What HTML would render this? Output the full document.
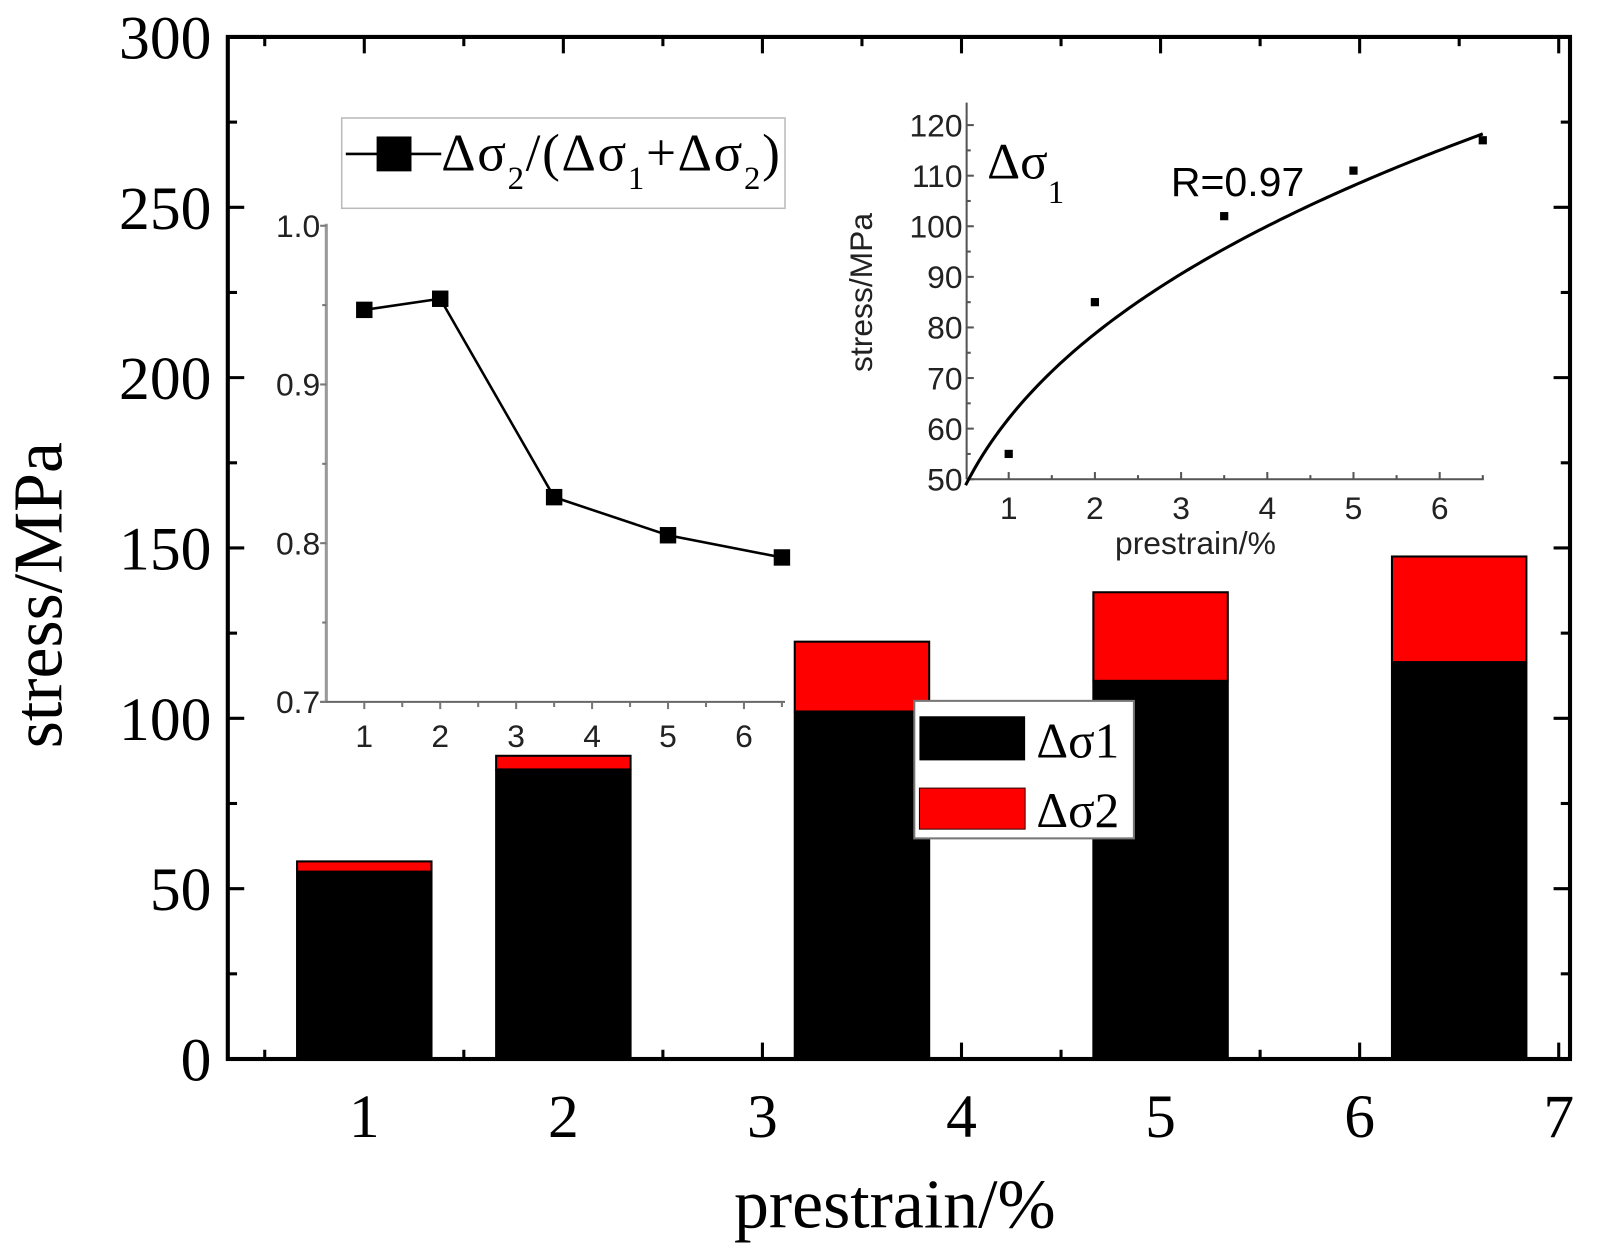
<!DOCTYPE html>
<html><head><meta charset="utf-8"><style>
html,body{margin:0;padding:0;background:#fff}
svg{display:block}
.serif{font-family:"Liberation Serif",serif}
.sans{font-family:"Liberation Sans",sans-serif}
</style></head><body>
<svg id="chart" width="1609" height="1255" viewBox="0 0 1568 1223" preserveAspectRatio="none" xmlns="http://www.w3.org/2000/svg">
<g id="main"></g>
<g id="inset1"></g>
<g id="inset2"></g>
</svg>
<script>
// main chart data
const barX = [1, 2, 3.5, 5, 6.5];
const sigma1 = [55, 85, 102, 111, 116.5];
const sigma2 = [3, 4, 20.5, 26, 31];
const mainYTicks = [0, 50, 100, 150, 200, 250, 300];
const mainXTicks = [1, 2, 3, 4, 5, 6, 7];
// inset 1 data
const ratioX = [1, 2, 3.5, 5, 6.5];
const ratioY = [0.947, 0.954, 0.829, 0.805, 0.791];
const in1YTicks = [0.7, 0.8, 0.9, 1.0];
const in1XTicks = [1, 2, 3, 4, 5, 6];
// inset 2 data
const s1X = [1, 2, 3.5, 5, 6.5];
const s1Y = [55, 85, 102, 111, 117];
const in2YTicks = [50, 60, 70, 80, 90, 100, 110, 120];
const in2XTicks = [1, 2, 3, 4, 5, 6];

const NS = "http://www.w3.org/2000/svg";
function mk(parent, tag, attrs, text) {
  const e = document.createElementNS(NS, tag);
  for (const k in attrs) e.setAttribute(k, attrs[k]);
  if (text !== undefined) e.textContent = text;
  parent.appendChild(e);
  return e;
}

// ---------- main ----------
const M = document.getElementById('main');
const L = 222, R = 1530, T = 36, B = 1032;
const xm = v => 355 + (v - 1) * 194;
const ym = v => B - v * 3.32;
const bw = 133;
barX.forEach((x, i) => {
  const r1 = mk(M, 'rect', {x: xm(x) - bw/2, y: ym(sigma1[i]), width: bw, height: B - ym(sigma1[i]), fill: '#000'});
  
  
  const top = sigma1[i] + sigma2[i];
  const r2 = mk(M, 'rect', {x: xm(x) - bw/2 + 1, y: ym(top), width: bw - 2, height: ym(sigma1[i]) - ym(top), fill: '#f00', stroke: '#000', 'stroke-width': 2});
  
  
});
const frame = mk(M, 'rect', {x: L, y: T, width: R - L, height: B - T, fill: 'none', stroke: '#000', 'stroke-width': 4});


mainYTicks.forEach((v, i) => {
  mk(M, 'line', {x1: L, x2: L + 16, y1: ym(v), y2: ym(v), stroke: '#000', 'stroke-width': 3});
  mk(M, 'line', {x1: R, x2: R - 16, y1: ym(v), y2: ym(v), stroke: '#000', 'stroke-width': 3});
  if (i < mainYTicks.length - 1) {
    const mv = v + 25;
    mk(M, 'line', {x1: L, x2: L + 9, y1: ym(mv), y2: ym(mv), stroke: '#000', 'stroke-width': 3});
    mk(M, 'line', {x1: R, x2: R - 9, y1: ym(mv), y2: ym(mv), stroke: '#000', 'stroke-width': 3});
  }
  const t = mk(M, 'text', {x: 206, y: ym(v) + 21, 'text-anchor': 'end', 'font-size': 60, class: 'serif'}, String(v));
  
  
});
mainXTicks.forEach(v => {
  mk(M, 'line', {x1: xm(v), x2: xm(v), y1: B, y2: B - 16, stroke: '#000', 'stroke-width': 3});
  mk(M, 'line', {x1: xm(v), x2: xm(v), y1: T, y2: T + 16, stroke: '#000', 'stroke-width': 3});
  const mv = v - 0.5;
  mk(M, 'line', {x1: xm(mv), x2: xm(mv), y1: B, y2: B - 9, stroke: '#000', 'stroke-width': 3});
  mk(M, 'line', {x1: xm(mv), x2: xm(mv), y1: T, y2: T + 9, stroke: '#000', 'stroke-width': 3});
  const t = mk(M, 'text', {x: xm(v), y: 1108, 'text-anchor': 'middle', 'font-size': 60, class: 'serif'}, String(v));
  
  
});
const xt = mk(M, 'text', {x: 872, y: 1196, 'text-anchor': 'middle', 'font-size': 68, class: 'serif'}, 'prestrain/%');


const yt = mk(M, 'text', {x: 0, y: 0, 'text-anchor': 'middle', 'font-size': 68, class: 'serif', transform: 'translate(60,580) rotate(-90)'}, 'stress/MPa');


// legend
const lg = mk(M, 'g', {});


mk(lg, 'rect', {x: 891, y: 683, width: 214, height: 134, fill: '#fff', stroke: '#777', 'stroke-width': 2});
mk(lg, 'rect', {x: 896, y: 698, width: 103, height: 43, fill: '#000'});
mk(lg, 'rect', {x: 896, y: 768, width: 103, height: 40, fill: '#f00', stroke: '#300', 'stroke-width': 1});
const l1 = mk(lg, 'text', {x: 1010, y: 738, 'font-size': 48, class: 'serif'}, 'Δσ1');


const l2 = mk(lg, 'text', {x: 1010, y: 806, 'font-size': 48, class: 'serif'}, 'Δσ2');



// ---------- inset 1 ----------
const I1 = document.getElementById('inset1');


const x1 = v => 355 + (v - 1) * 74;
const y1 = v => 684 - (v - 0.7) * 1546.7;
mk(I1, 'rect', {x: 320, y: 218, width: 445, height: 466, fill: '#fff'});
mk(I1, 'line', {x1: 318, x2: 318, y1: 218, y2: 684, stroke: '#999', 'stroke-width': 3});
mk(I1, 'line', {x1: 312, x2: 765, y1: 684, y2: 684, stroke: '#666', 'stroke-width': 2});
in1YTicks.forEach((v, i) => {
  mk(I1, 'line', {x1: 312, x2: 318, y1: y1(v), y2: y1(v), stroke: '#777', 'stroke-width': 2});
  if (i > 0) mk(I1, 'line', {x1: 314, x2: 318, y1: y1(v - 0.05), y2: y1(v - 0.05), stroke: '#777', 'stroke-width': 2});
  const t = mk(I1, 'text', {x: 312, y: y1(v) + 11, 'text-anchor': 'end', 'font-size': 31, class: 'sans', fill: '#222'}, v.toFixed(1));
  
  
});
in1XTicks.forEach(v => {
  mk(I1, 'line', {x1: x1(v), x2: x1(v), y1: 684, y2: 691, stroke: '#777', 'stroke-width': 2});
  mk(I1, 'line', {x1: x1(v + 0.5), x2: x1(v + 0.5), y1: 684, y2: 689, stroke: '#777', 'stroke-width': 2});
  const t = mk(I1, 'text', {x: x1(v), y: 728, 'text-anchor': 'middle', 'font-size': 31, class: 'sans', fill: '#222'}, String(v));
  
  
});
mk(I1, 'polyline', {points: ratioX.map((x, i) => x1(x) + ',' + y1(ratioY[i])).join(' '), fill: 'none', stroke: '#000', 'stroke-width': 2.5});
ratioX.forEach((x, i) => {
  const p = mk(I1, 'rect', {x: x1(x) - 8, y: y1(ratioY[i]) - 8, width: 16, height: 16, fill: '#000'});
  
  
});
const lg1 = mk(I1, 'g', {});


mk(lg1, 'rect', {x: 333, y: 115, width: 432, height: 88, fill: '#fff', stroke: '#bbb', 'stroke-width': 1.5});
mk(lg1, 'line', {x1: 337, x2: 430, y1: 150, y2: 150, stroke: '#000', 'stroke-width': 2.5});
mk(lg1, 'rect', {x: 367, y: 133, width: 34, height: 34, fill: '#000'});
const lt = mk(lg1, 'text', {x: 430, y: 166, 'font-size': 52, class: 'serif', textLength: 330});
lt.innerHTML = 'Δσ<tspan font-size="32" dy="18">2</tspan><tspan dy="-18">/(Δσ</tspan><tspan font-size="32" dy="18">1</tspan><tspan dy="-18">+Δσ</tspan><tspan font-size="32" dy="18">2</tspan><tspan dy="-18">)</tspan>';



// ---------- inset 2 ----------
const I2 = document.getElementById('inset2');


const x2 = v => 983 + (v - 1) * 84;
const y2 = v => 467 - (v - 50) * 4.93;
mk(I2, 'line', {x1: 942, x2: 942, y1: 100, y2: 467, stroke: '#555', 'stroke-width': 2});
mk(I2, 'line', {x1: 942, x2: 1446, y1: 467, y2: 467, stroke: '#555', 'stroke-width': 2});
in2YTicks.forEach((v, i) => {
  mk(I2, 'line', {x1: 942, x2: 949, y1: y2(v), y2: y2(v), stroke: '#555', 'stroke-width': 2});
  if (i < in2YTicks.length - 1) mk(I2, 'line', {x1: 942, x2: 946, y1: y2(v + 5), y2: y2(v + 5), stroke: '#555', 'stroke-width': 2});
  const t = mk(I2, 'text', {x: 938, y: y2(v) + 11, 'text-anchor': 'end', 'font-size': 31, class: 'sans', fill: '#222'}, String(v));
  
  
});
in2XTicks.forEach(v => {
  mk(I2, 'line', {x1: x2(v), x2: x2(v), y1: 467, y2: 460, stroke: '#555', 'stroke-width': 2});
  mk(I2, 'line', {x1: x2(v + 0.5), x2: x2(v + 0.5), y1: 467, y2: 463, stroke: '#555', 'stroke-width': 2});
  const t = mk(I2, 'text', {x: x2(v), y: 506, 'text-anchor': 'middle', 'font-size': 31, class: 'sans', fill: '#222'}, String(v));
  
  
});
const t2x = mk(I2, 'text', {x: 1165, y: 540, 'text-anchor': 'middle', 'font-size': 31, class: 'sans', fill: '#222'}, 'prestrain/%');


const t2y = mk(I2, 'text', {x: 0, y: 0, 'text-anchor': 'middle', 'font-size': 31, class: 'sans', fill: '#222', transform: 'translate(850,285) rotate(-90)'}, 'stress/MPa');


// fit curve (power-law fit)
const pts = [];
for (let x = 0.5; x <= 6.52; x += 0.05) pts.push(x2(x) + ',' + y2(62 * Math.pow(x, 0.345)));
const fit = mk(I2, 'polyline', {points: pts.join(' '), fill: 'none', stroke: '#000', 'stroke-width': 3});


s1X.forEach((x, i) => {
  const p = mk(I2, 'rect', {x: x2(x) - 4, y: y2(s1Y[i]) - 4, width: 8, height: 8, fill: '#000'});
  
  
});
const sl = mk(I2, 'text', {x: 962, y: 174, 'font-size': 50, class: 'serif'});
sl.innerHTML = 'Δσ<tspan font-size="32" dy="24">1</tspan>';


const rl = mk(I2, 'text', {x: 1141, y: 191, 'font-size': 40, class: 'sans'}, 'R=0.97');


</script>
</body></html>
